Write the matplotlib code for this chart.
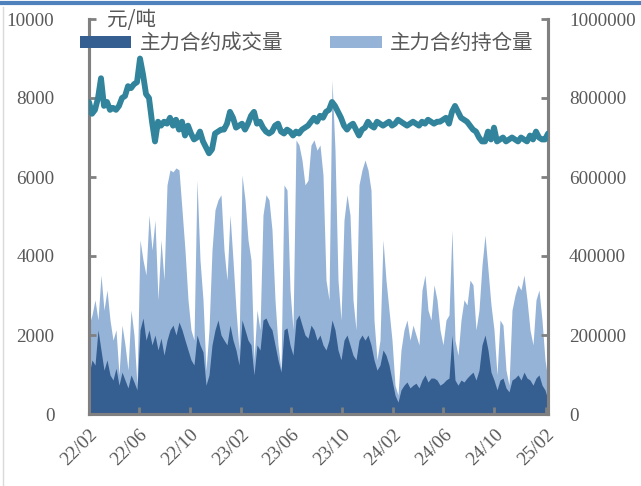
import matplotlib
matplotlib.use("Agg")
import matplotlib.pyplot as plt
from matplotlib.patches import Patch
import pandas as pd
import numpy as np

# ---------------- data ----------------
start_date = "2022-02-01"
end_date = "2025-02-07"

price = [7900, 7600, 7700, 8000, 8500, 7800, 7900, 7700, 7750, 7700,
         7800, 8000, 8050, 8300, 8250, 8350, 8400, 9000, 8600, 8100,
         8000, 7400, 6900, 7400, 7300, 7400, 7350, 7500, 7300, 7450,
         7200, 7400, 7050, 7300, 7100, 6950, 7000, 7150, 6900, 6750,
         6600, 6700, 7100, 7150, 7200, 7200, 7350, 7650, 7500, 7250,
         7300, 7350, 7200, 7350, 7550, 7650, 7350, 7400, 7250, 7150,
         7100, 7150, 7300, 7350, 7150, 7100, 7200, 7150, 7050, 7150,
         7100, 7200, 7250, 7300, 7400, 7500, 7400, 7550, 7500, 7650,
         7700, 7900, 7800, 7650, 7500, 7300, 7200, 7300, 7350, 7200,
         7050, 7200, 7250, 7400, 7300, 7250, 7400, 7350, 7300, 7350,
         7400, 7300, 7350, 7450, 7400, 7350, 7300, 7350, 7400, 7350,
         7300, 7400, 7350, 7450, 7400, 7350, 7400, 7400, 7450, 7500,
         7350, 7650, 7800, 7650, 7500, 7450, 7400, 7300, 7200, 7150,
         7000, 6900, 6900, 7150, 6950, 7250, 6900, 6950, 7000, 6900,
         6950, 7000, 6950, 6900, 7000, 6950, 6900, 7050, 6950, 7150,
         7000, 6950, 6950, 7100]

open_interest = [225, 251, 289, 238, 352, 263, 314, 238, 187, 213,
                 99, 225, 175, 111, 263, 200, 73, 441, 390, 352,
                 504, 415, 491, 289, 441, 339, 580, 618, 613, 623,
                 618, 517, 415, 289, 213, 187, 592, 390, 289, 111,
                 213, 415, 517, 542, 555, 415, 339, 504, 390, 263,
                 162, 605, 542, 441, 390, 137, 263, 213, 504, 555,
                 542, 466, 289, 175, 111, 580, 567, 314, 213, 694,
                 681, 643, 580, 592, 681, 694, 668, 681, 605, 339,
                 289, 846, 668, 339, 238, 491, 555, 504, 289, 213,
                 580, 618, 643, 618, 567, 238, 137, 187, 441, 339,
                 263, 187, 73, 48, 162, 213, 238, 187, 225, 200,
                 175, 314, 352, 263, 238, 327, 289, 213, 175, 238,
                 251, 466, 187, 149, 238, 289, 276, 339, 327, 213,
                 263, 377, 453, 365, 276, 213, 99, 238, 225, 111,
                 73, 263, 301, 327, 314, 352, 289, 213, 175, 289,
                 314, 238, 137, 86]
open_interest = [v * 1000 for v in open_interest]

volume = [99, 137, 124, 213, 162, 111, 137, 99, 86, 116,
          73, 106, 86, 66, 99, 81, 61, 213, 243, 187,
          213, 175, 200, 162, 192, 149, 187, 213, 225, 200,
          233, 213, 187, 162, 137, 124, 200, 175, 157, 73,
          99, 175, 213, 238, 200, 187, 175, 225, 187, 162,
          124, 238, 213, 187, 175, 99, 175, 162, 238, 243,
          225, 213, 175, 137, 106, 213, 218, 175, 149, 238,
          251, 225, 200, 192, 225, 213, 187, 200, 175, 162,
          187, 238, 213, 162, 137, 187, 200, 175, 149, 137,
          187, 200, 187, 200, 175, 137, 111, 124, 162, 149,
          124, 86, 48, 30, 61, 73, 81, 66, 73, 78,
          66, 86, 99, 81, 91, 91, 86, 73, 78, 86,
          91, 200, 86, 73, 86, 81, 91, 99, 106, 86,
          111, 175, 200, 162, 106, 86, 61, 86, 91, 66,
          56, 86, 91, 99, 86, 106, 91, 86, 73, 91,
          99, 73, 61, 35]
volume = [v * 1000 for v in volume]

tick_labels = ["22/02", "22/06", "22/10", "23/02", "23/06", "23/10",
               "24/02", "24/06", "24/10", "25/02"]
tick_dates = ["2022-02-01", "2022-06-01", "2022-10-01", "2023-02-01", "2023-06-01",
              "2023-10-01", "2024-02-01", "2024-06-01", "2024-10-01", "2025-02-01"]

series_names = ["主力合约成交量", "主力合约持仓量"]
unit_label = "元/吨"

# ---------------- style ----------------
dark_blue = "#355E91"
light_blue = "#95B3D7"
teal = "#31849B"
grey = "#808080"
text_grey = "#595959"
num_font = "Liberation Serif"
cjk_font = ["Noto Sans CJK SC", "DejaVu Sans"]
num_size = 13.8
cjk_size = 14.8

dates = pd.date_range(start_date, end_date, periods=len(price))

fig = plt.figure(figsize=(6.41, 4.86), dpi=100)
ax_l = fig.add_axes([89 / 641, 1 - 414 / 486, (548 - 89) / 641, (414 - 19) / 486])
ax_r = ax_l.twinx()

ax_r.fill_between(dates, 0, open_interest, color=light_blue, lw=0, zorder=1)
ax_r.fill_between(dates, 0, volume, color=dark_blue, lw=0, zorder=2)
ax_l.plot(dates, price, color=teal, lw=4.2, solid_capstyle="round",
          solid_joinstyle="round", zorder=3)

ax_l.set_zorder(ax_r.get_zorder() + 1)
ax_l.patch.set_visible(False)

ax_l.set_ylim(0, 10000)
ax_r.set_ylim(0, 1000000)
ax_l.set_yticks(np.arange(0, 10001, 2000))
ax_r.set_yticks(np.arange(0, 1000001, 200000))
ax_r.set_yticklabels([str(int(v)) for v in np.arange(0, 1000001, 200000)])

ax_l.set_xlim(pd.Timestamp(start_date), pd.Timestamp(end_date))
ax_l.set_xticks(pd.to_datetime(tick_dates))
ax_l.set_xticklabels(tick_labels)

for ax in (ax_l, ax_r):
    for side in ("left", "right", "bottom"):
        ax.spines[side].set_color(grey)
        ax.spines[side].set_linewidth(2.2)
    ax.spines["top"].set_visible(False)

ax_l.tick_params(axis="y", direction="in", length=5, width=2, color=grey,
                 labelsize=num_size, labelcolor=text_grey, pad=25)
ax_r.tick_params(axis="y", direction="in", length=5, width=2, color=grey,
                 labelsize=num_size, labelcolor=text_grey, pad=15)
ax_l.tick_params(axis="x", direction="in", length=5, width=2, color=grey,
                 labelsize=num_size, labelcolor=text_grey, pad=9)
for lab in ax_l.get_xticklabels():
    lab.set_rotation(45)
    lab.set_ha("right")
    lab.set_rotation_mode("anchor")
    lab.set_fontfamily(num_font)
for lab in ax_l.get_yticklabels() + ax_r.get_yticklabels():
    lab.set_fontfamily(num_font)

# legend
handles = [Patch(facecolor=dark_blue, edgecolor="none"),
           Patch(facecolor=light_blue, edgecolor="none")]
leg = fig.legend(handles, series_names, loc="center left",
                 bbox_to_anchor=(80 / 641, 1 - 43 / 486), ncol=2, frameon=False,
                 borderpad=0, borderaxespad=0, handlelength=2.5, handleheight=0.5,
                 handletextpad=0.4, columnspacing=2.3,
                 prop={"family": cjk_font, "size": cjk_size})
for t in leg.get_texts():
    t.set_color(text_grey)

fig.text(107 / 641, 1 - 20 / 486, unit_label, family=cjk_font, fontsize=cjk_size,
         color=text_grey, ha="left", va="center")

# decorative frame: top blue bar and left border line
fig.add_artist(plt.Line2D([0, 1], [1 - 3.5 / 486, 1 - 3.5 / 486], color="#4F81BD",
                          lw=3, transform=fig.transFigure))
fig.add_artist(plt.Line2D([3 / 641, 3 / 641], [0, 1 - 7 / 486], color="#D9D9D9",
                          lw=1, transform=fig.transFigure))

fig.savefig("out.png", dpi=100)
